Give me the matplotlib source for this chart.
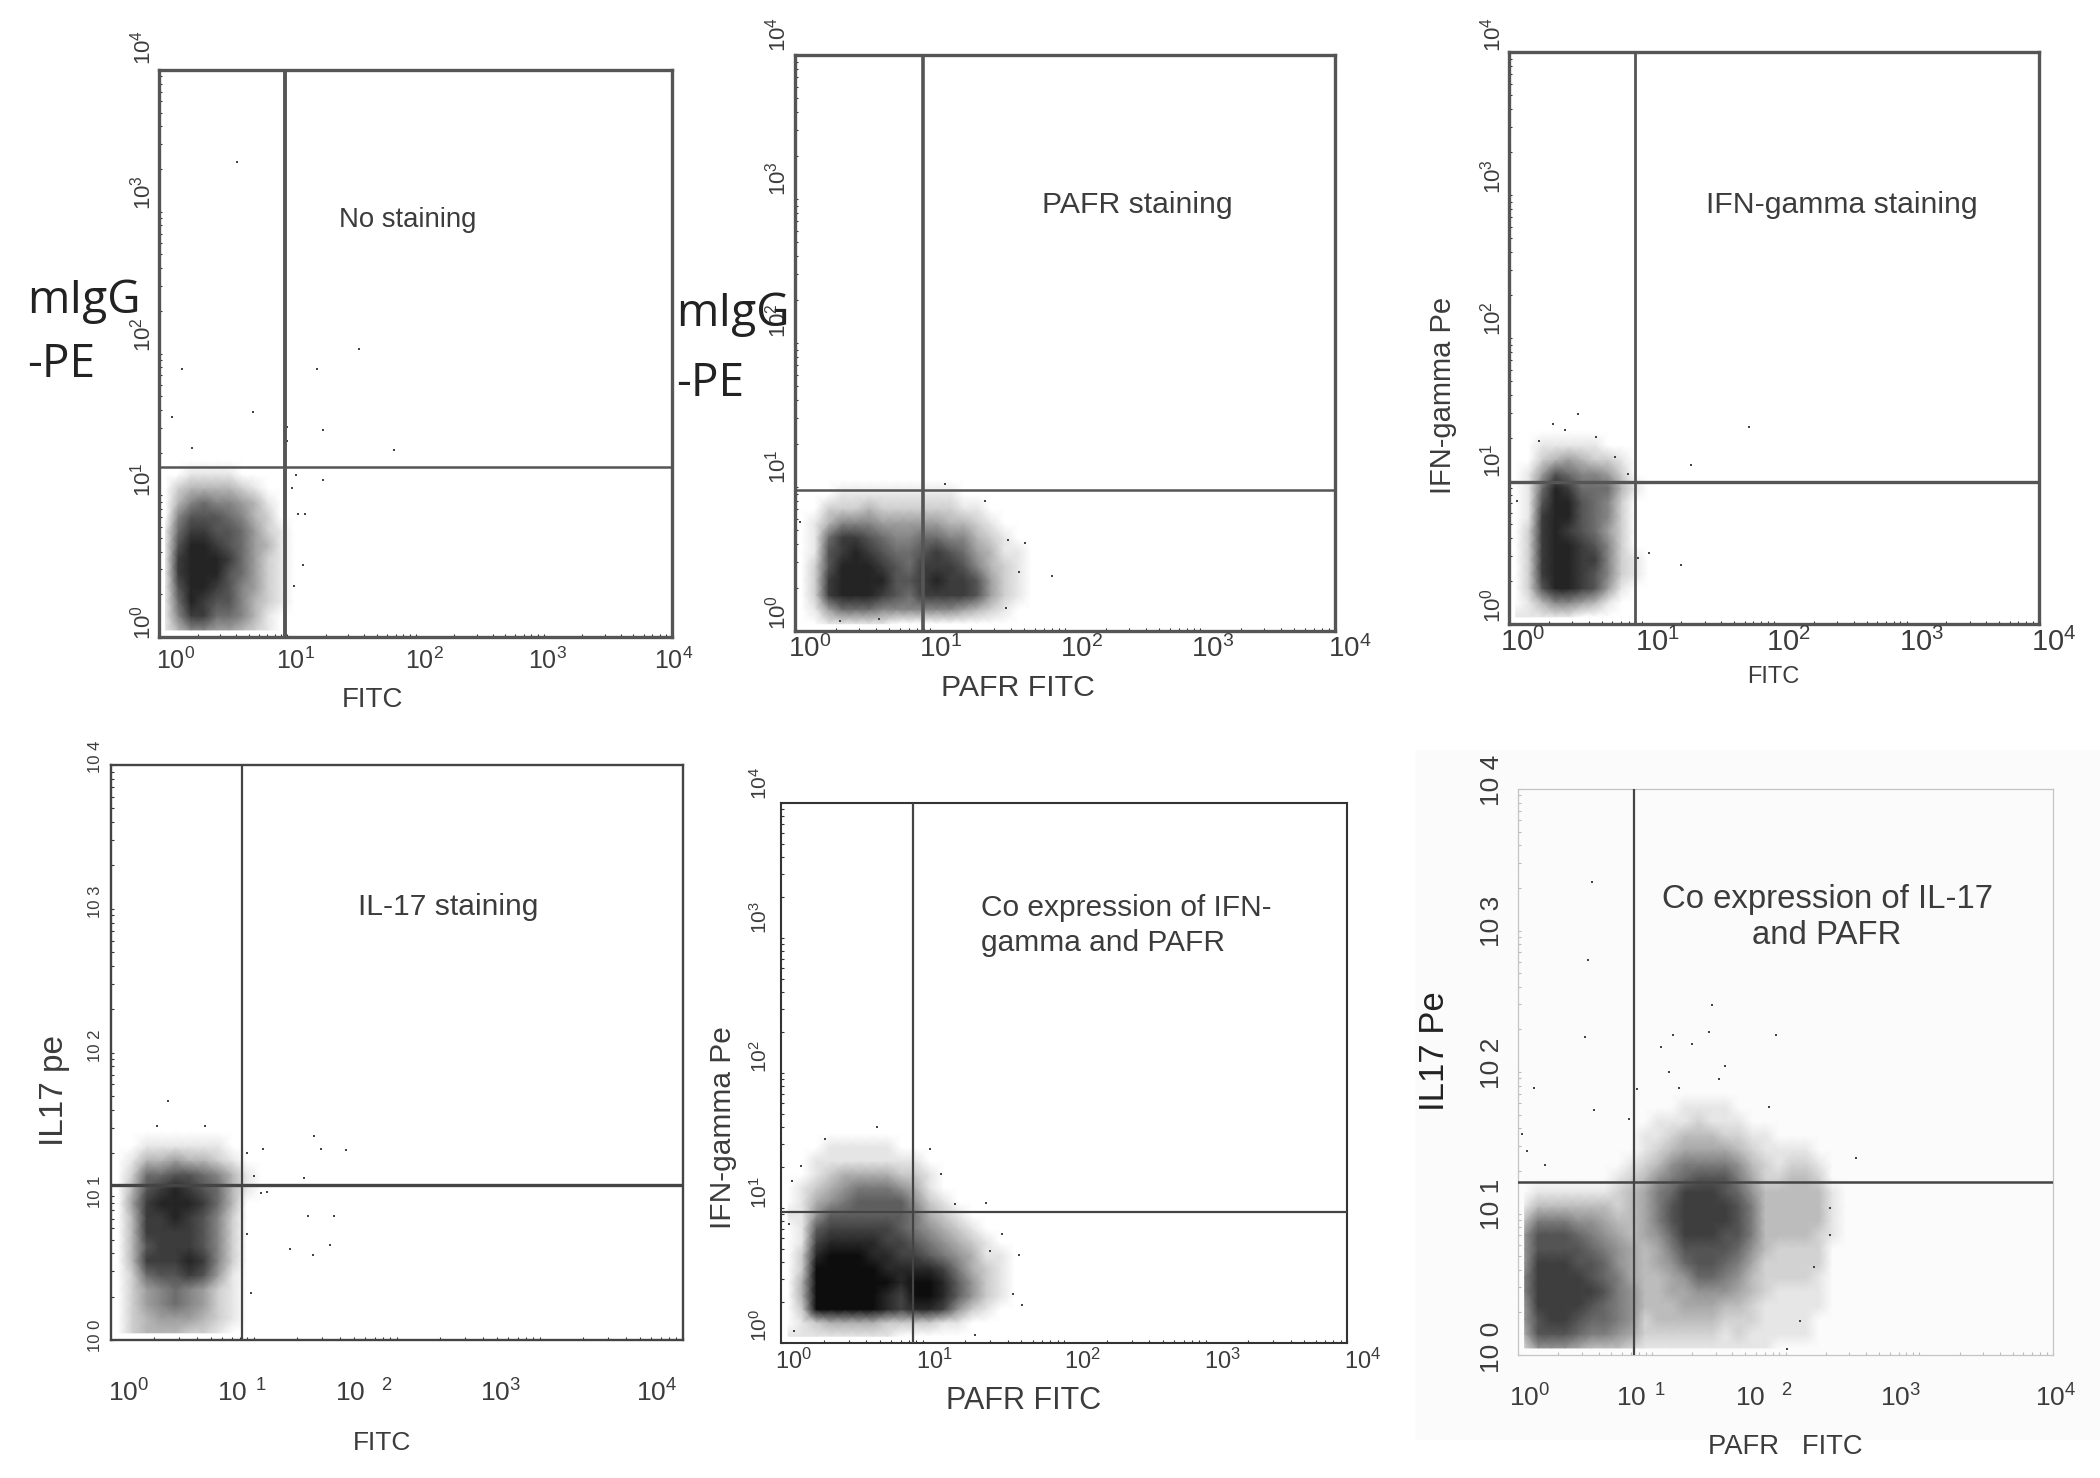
import numpy as np
import matplotlib
matplotlib.use("Agg")
import matplotlib.pyplot as plt
from matplotlib.colors import LinearSegmentedColormap
from matplotlib.patches import Rectangle

plt.rcParams['font.family'] = ['Liberation Sans', 'DejaVu Sans']
plt.rcParams['mathtext.default'] = 'regular'

W, H = 2100, 1478

# Density of the dots, 0 (white) to 9 (solid black).
# One cell is 0.1 decade, rows go from the bottom of the plot upwards.
no_stain_density = [
    [1, 3, 5, 5, 4, 4, 3, 2, 1, 0],
    [1, 5, 8, 8, 6, 6, 5, 3, 1, 0],
    [1, 6, 9, 8, 7, 7, 5, 3, 2, 1],
    [1, 7, 9, 9, 8, 7, 5, 4, 2, 1],
    [1, 8, 9, 9, 9, 7, 6, 4, 2, 1],
    [1, 8, 9, 9, 9, 8, 6, 4, 2, 1],
    [1, 7, 9, 9, 8, 7, 6, 4, 3, 1],
    [1, 6, 8, 8, 7, 7, 6, 4, 2, 1],
    [0, 5, 7, 7, 7, 6, 5, 3, 2, 0],
    [0, 3, 5, 6, 5, 5, 4, 3, 1, 0],
    [0, 2, 3, 3, 3, 3, 2, 1, 0, 0],
    [0, 0, 1, 1, 1, 1, 0, 0, 0, 0],
]
pafr_density = [
    [0, 0, 1, 1, 1, 1, 1, 0, 0, 0, 0, 0, 0, 0, 0, 0, 0, 0],
    [0, 1, 4, 6, 6, 6, 5, 5, 5, 5, 5, 5, 4, 3, 2, 1, 0, 0],
    [0, 2, 8, 9, 9, 9, 8, 7, 6, 8, 8, 8, 8, 7, 4, 2, 1, 0],
    [0, 2, 8, 9, 9, 9, 9, 7, 7, 8, 9, 8, 8, 7, 4, 2, 1, 0],
    [0, 2, 7, 9, 9, 9, 8, 7, 6, 8, 8, 8, 7, 5, 3, 2, 1, 0],
    [0, 1, 7, 8, 9, 8, 7, 6, 6, 7, 8, 7, 6, 4, 3, 1, 1, 0],
    [0, 1, 6, 8, 8, 7, 6, 5, 5, 6, 6, 5, 5, 3, 2, 1, 0, 0],
    [0, 1, 3, 5, 5, 5, 4, 4, 4, 4, 4, 3, 3, 2, 1, 0, 0, 0],
    [0, 0, 2, 2, 2, 3, 2, 2, 2, 2, 2, 2, 1, 1, 0, 0, 0, 0],
    [0, 0, 0, 1, 1, 1, 1, 1, 1, 1, 1, 1, 0, 0, 0, 0, 0, 0],
]
ifn_density = [
    [1, 1, 1, 1, 1, 0, 0, 0, 0, 0],
    [0, 1, 3, 5, 5, 4, 3, 1, 0, 0],
    [0, 2, 7, 9, 9, 8, 7, 4, 1, 0],
    [0, 2, 8, 9, 9, 8, 7, 5, 2, 1],
    [0, 2, 8, 9, 9, 8, 8, 5, 2, 1],
    [0, 2, 8, 9, 9, 8, 7, 5, 2, 0],
    [0, 2, 8, 9, 8, 7, 6, 4, 2, 0],
    [0, 1, 8, 9, 9, 7, 6, 5, 2, 0],
    [0, 1, 7, 9, 9, 7, 6, 5, 2, 0],
    [0, 1, 6, 9, 8, 6, 6, 6, 3, 1],
    [0, 1, 4, 7, 6, 5, 5, 4, 2, 0],
    [0, 0, 2, 3, 4, 3, 2, 2, 1, 0],
    [0, 0, 1, 1, 1, 1, 1, 0, 0, 0],
]
il17_density = [
    [0, 2, 3, 3, 3, 2, 2, 1, 0, 0],
    [0, 2, 3, 4, 4, 4, 3, 2, 1, 0],
    [0, 2, 4, 5, 6, 5, 4, 2, 1, 0],
    [0, 2, 4, 5, 6, 5, 4, 2, 1, 0],
    [0, 2, 6, 7, 7, 8, 7, 4, 1, 0],
    [0, 3, 8, 8, 8, 9, 8, 5, 2, 0],
    [0, 3, 7, 8, 8, 8, 7, 5, 2, 0],
    [0, 3, 8, 8, 8, 8, 7, 5, 2, 0],
    [0, 3, 8, 8, 9, 8, 7, 5, 2, 0],
    [0, 4, 8, 9, 9, 9, 8, 6, 3, 0],
    [0, 3, 7, 8, 9, 8, 7, 6, 3, 1],
    [0, 2, 6, 6, 7, 7, 6, 5, 3, 1],
    [0, 1, 3, 3, 4, 3, 3, 2, 1, 0],
    [0, 0, 1, 1, 1, 1, 1, 1, 0, 0],
]
ifn_pafr_density = [
    [1, 1, 1, 1, 1, 1, 1, 1, 0, 0, 0, 0, 0, 0, 0, 0, 0, 0],
    [0, 1, 2, 3, 3, 3, 3, 2, 2, 2, 2, 1, 1, 0, 0, 0, 0, 0],
    [0, 2, 9, 9, 9, 9, 9, 8, 7, 8, 8, 7, 4, 2, 1, 0, 0, 0],
    [0, 3, 9, 9, 9, 9, 9, 8, 7, 9, 9, 8, 6, 4, 2, 1, 0, 0],
    [0, 3, 9, 9, 9, 9, 9, 9, 8, 9, 9, 8, 6, 4, 2, 1, 0, 0],
    [0, 2, 9, 9, 9, 9, 9, 8, 8, 8, 8, 7, 5, 3, 2, 1, 0, 0],
    [0, 2, 8, 9, 9, 9, 8, 8, 7, 7, 6, 5, 4, 3, 1, 1, 0, 0],
    [0, 1, 7, 8, 8, 8, 8, 7, 7, 6, 5, 4, 3, 2, 1, 0, 0, 0],
    [0, 1, 6, 7, 7, 7, 7, 7, 6, 5, 4, 3, 2, 1, 0, 0, 0, 0],
    [1, 1, 4, 6, 6, 6, 6, 6, 6, 5, 3, 2, 1, 0, 0, 0, 0, 0],
    [0, 1, 3, 4, 5, 6, 6, 6, 6, 4, 2, 1, 0, 0, 0, 0, 0, 0],
    [0, 1, 2, 3, 4, 5, 5, 5, 4, 3, 1, 0, 0, 0, 0, 0, 0, 0],
    [0, 0, 1, 2, 3, 3, 3, 3, 2, 2, 1, 0, 0, 0, 0, 0, 0, 0],
    [0, 0, 1, 1, 1, 1, 1, 1, 1, 1, 0, 0, 0, 0, 0, 0, 0, 0],
    [0, 0, 0, 1, 1, 1, 1, 1, 0, 0, 0, 0, 0, 0, 0, 0, 0, 0],
]
il17_pafr_density = [
    [2, 5, 5, 5, 4, 3, 3, 3, 2, 1, 1, 1, 1, 1, 1, 1, 1, 1, 1, 0, 0, 0, 0, 0],
    [4, 8, 8, 8, 7, 6, 6, 5, 4, 2, 2, 2, 2, 2, 2, 1, 2, 1, 1, 1, 1, 1, 0, 0],
    [5, 8, 9, 9, 8, 7, 7, 6, 5, 2, 3, 3, 3, 3, 3, 2, 2, 2, 1, 1, 1, 1, 0, 0],
    [5, 9, 9, 9, 9, 8, 7, 6, 5, 3, 3, 3, 4, 4, 4, 3, 3, 2, 1, 1, 1, 1, 1, 0],
    [6, 9, 9, 9, 9, 9, 8, 6, 5, 3, 3, 4, 4, 5, 5, 5, 4, 3, 2, 1, 1, 1, 1, 0],
    [6, 9, 9, 9, 9, 8, 7, 6, 4, 3, 3, 4, 5, 7, 7, 6, 5, 3, 2, 2, 2, 2, 1, 0],
    [5, 9, 9, 9, 8, 8, 7, 5, 4, 3, 4, 5, 7, 8, 8, 7, 6, 4, 2, 2, 2, 2, 2, 0],
    [5, 8, 8, 8, 8, 7, 6, 5, 4, 3, 4, 6, 8, 8, 8, 8, 7, 5, 3, 2, 2, 2, 2, 0],
    [5, 8, 8, 8, 7, 6, 5, 4, 3, 4, 5, 7, 9, 9, 9, 8, 8, 6, 3, 3, 3, 3, 2, 1],
    [3, 6, 6, 6, 5, 5, 4, 3, 3, 4, 6, 8, 9, 9, 9, 9, 8, 6, 3, 3, 3, 3, 3, 1],
    [1, 3, 3, 3, 3, 3, 3, 2, 3, 4, 6, 8, 9, 9, 9, 9, 8, 6, 3, 3, 3, 3, 3, 1],
    [0, 1, 1, 1, 1, 1, 1, 2, 3, 4, 6, 7, 9, 9, 9, 8, 7, 5, 3, 3, 3, 3, 3, 1],
    [0, 0, 0, 0, 0, 0, 0, 1, 2, 3, 5, 6, 7, 8, 8, 8, 6, 4, 2, 2, 3, 3, 2, 0],
    [0, 0, 0, 0, 0, 0, 0, 0, 1, 2, 3, 5, 6, 6, 6, 6, 5, 3, 2, 1, 2, 2, 1, 0],
    [0, 0, 0, 0, 0, 0, 0, 0, 0, 1, 2, 3, 4, 4, 4, 4, 3, 2, 1, 1, 1, 1, 0, 0],
    [0, 0, 0, 0, 0, 0, 0, 0, 0, 1, 1, 2, 3, 3, 3, 2, 2, 1, 1, 0, 0, 0, 0, 0],
    [0, 0, 0, 0, 0, 0, 0, 0, 0, 0, 1, 1, 1, 2, 1, 1, 1, 0, 0, 0, 0, 0, 0, 0],
    [0, 0, 0, 0, 0, 0, 0, 0, 0, 0, 0, 0, 1, 1, 1, 1, 0, 0, 0, 0, 0, 0, 0, 0],
]

# Single dots outside the clouds, in decades (log10 of the value)
no_stain_x = [0.61, 0.18, 0.10, 0.73, 0.26, 1.23, 1.56, 1.28, 1.83, 1.00, 1.00, 1.28, 1.07, 1.04, 1.08, 1.14, 1.12, 1.05]
no_stain_y = [3.35, 1.89, 1.55, 1.59, 1.33, 1.89, 2.03, 1.46, 1.32, 1.48, 1.38, 1.11, 1.14, 1.05, 0.87, 0.87, 0.51, 0.36]
pafr_x = [1.11, 1.90, 1.70, 1.66, 1.58, 1.56, 0.04, 0.62, 0.33, 1.41]
pafr_y = [1.02, 0.38, 0.61, 0.41, 0.63, 0.16, 0.76, 0.08, 0.07, 0.90]
ifn_x = [1.81, 1.37, 1.30, 1.06, 0.52, 0.33, 0.42, 0.23, 0.66, 0.80, 0.90, 0.06, 0.97]
ifn_y = [1.38, 1.11, 0.41, 0.50, 1.47, 1.40, 1.36, 1.28, 1.31, 1.17, 1.05, 0.86, 0.46]
il17_x = [0.40, 0.32, 0.66, 1.42, 1.47, 1.64, 1.06, 0.95, 1.00, 1.35, 1.09, 1.05, 1.38, 1.56, 1.53, 1.25, 1.41, 0.98, 0.95]
il17_y = [1.66, 1.49, 1.49, 1.42, 1.33, 1.32, 1.33, 1.30, 1.14, 1.13, 1.03, 1.02, 0.86, 0.86, 0.66, 0.63, 0.59, 0.33, 0.74]
ifn_pafr_x = [0.68, 0.31, 1.45, 1.23, 1.68, 1.70, 1.64, 1.56, 1.48, 1.05, 1.13, 0.08, 0.14, 1.37, 0.06, 0.09]
ifn_pafr_y = [1.60, 1.51, 1.04, 1.03, 0.65, 0.28, 0.36, 0.81, 0.68, 1.44, 1.25, 1.20, 1.31, 0.06, 0.88, 0.09]
il17_pafr_x = [0.55, 0.52, 0.50, 0.12, 1.45, 1.43, 1.16, 1.93, 1.07, 1.30, 1.55, 1.13, 1.50, 1.20, 0.89, 1.88, 0.57, 0.83, 0.03, 0.07, 0.20, 2.53, 2.33, 2.33, 2.21, 2.11, 2.01]
il17_pafr_y = [3.34, 2.79, 2.25, 1.89, 2.47, 2.28, 2.26, 2.26, 2.18, 2.20, 2.04, 2.00, 1.95, 1.89, 1.88, 1.75, 1.73, 1.67, 1.56, 1.44, 1.34, 1.39, 1.04, 0.85, 0.62, 0.24, 0.04]

# Quadrant gates, in decades
gate_x = [0.98, 0.948, 0.951, 0.916, 0.933, 0.867]
gate_y = [1.20, 0.979, 0.993, 1.078, 0.970, 1.223]

sup_labels = ['$10^{0}$', '$10^{1}$', '$10^{2}$', '$10^{3}$', '$10^{4}$']
gap_labels = ['$10^{0}$', '$10\\ ^{1}$', '$10\\ \\ ^{2}$', '$10^{3}$', '$10^{4}$']
plain_labels = ['10 0', '10 1', '10 2', '10 3', '10 4']


def add_text(x, y, s, size, color='#3c3c3c', rotation=0, ha='center', family=None):
    # x and y are pixels of the final picture
    kw = {'family': family} if family else {}
    fig.text(x / W, 1 - y / H, s, fontsize=size, color=color, rotation=rotation,
             ha=ha, va='center', **kw)


def draw_panel(box, density, dots_x, dots_y, gx, gy, frame='#555555', frame_w=2.0,
               gate_w=(2.0, 1.5), gate_c='#555555', darkest=10.5, tick_c='#333333', paper='#ffffff'):
    left, right, top, bottom = box
    ax = fig.add_axes([left / W, 1 - bottom / H, (right - left) / W, (bottom - top) / H])
    ax.set_xscale('log')
    ax.set_yscale('log')
    ax.set_xlim(1, 1e4)
    ax.set_ylim(1, 1e4)

    # one empty row and column so the cloud fades out instead of stopping at the last cell
    grid = np.pad(np.array(density), ((0, 1), (0, 1)))
    xs = 10 ** (np.arange(grid.shape[1]) * 0.1 + 0.05)
    ys = 10 ** (np.arange(grid.shape[0]) * 0.1 + 0.05)
    X, Y = np.meshgrid(xs, ys)
    cmap = LinearSegmentedColormap.from_list('dots', [paper, '#000000'])
    ax.pcolormesh(X, Y, grid, cmap=cmap, vmin=0, vmax=darkest, shading='gouraud', zorder=1)
    ax.scatter(10 ** np.array(dots_x), 10 ** np.array(dots_y), s=4, marker='s', color='#444444',
               linewidths=0, zorder=2)

    ax.axvline(10 ** gx, color=gate_c, lw=gate_w[0], zorder=3)
    ax.axhline(10 ** gy, color=gate_c, lw=gate_w[1], zorder=3)

    for side in ax.spines.values():
        side.set_color(frame)
        side.set_linewidth(frame_w)
    ax.patch.set_alpha(0)
    ax.tick_params(which='both', direction='in', length=2, width=0.8, color=tick_c,
                   labelbottom=False, labelleft=False)
    ax.set_xticks([1, 10, 100, 1000, 10000])
    ax.set_yticks([1, 10, 100, 1000, 10000])
    return ax


def tick_labels(labels, xs, x_y, ys, y_x, xsize, ysize):
    for s, px in zip(labels[0], xs):
        add_text(px, x_y, s, xsize)
    for s, py in zip(labels[1], ys):
        add_text(y_x, py, s, ysize, rotation=90)


fig = plt.figure(figsize=(W / 100, H / 100), dpi=100, facecolor='white')
fig.patches.append(Rectangle((1415 / W, 1 - 1440 / H), 685 / W, 690 / H, transform=fig.transFigure,
                             facecolor='#fbfbfb', edgecolor='none', zorder=-5))

# top row
draw_panel((159, 672, 70, 637), no_stain_density, no_stain_x, no_stain_y, gate_x[0], gate_y[0],
           frame='#555555', frame_w=2.4, gate_w=(2.8, 1.8))
tick_labels((sup_labels, sup_labels), [176, 295, 424, 547, 674], 661,
            [622, 480, 335, 193, 47], 143, 18, 16)
add_text(373, 700, 'FITC', 20)
add_text(408, 220, 'No staining', 19.8)
add_text(27, 301, 'mIgG', 33, '#222222', ha='left', family='Open Sans')
add_text(27, 365, '-PE', 33, '#222222', ha='left', family='Open Sans')

draw_panel((795, 1335, 55, 631), pafr_density, pafr_x, pafr_y, gate_x[1], gate_y[1],
           frame='#555555', frame_w=2.4, gate_w=(2.6, 1.8))
tick_labels((sup_labels, sup_labels), [810, 941, 1082, 1213, 1350], 649,
            [612, 467, 321, 179, 34], 778, 20, 16)
add_text(1018, 688, 'PAFR FITC', 21.8)
add_text(1137, 205, 'PAFR staining', 21.7)
add_text(676, 314, 'mIgG', 33, '#222222', ha='left', family='Open Sans')
add_text(676, 384, '-PE', 33, '#222222', ha='left', family='Open Sans')

draw_panel((1509, 2039, 52, 624), ifn_density, ifn_x, ifn_y, gate_x[2], gate_y[2],
           frame='#555555', frame_w=2.4, gate_w=(2.0, 2.4))
tick_labels((sup_labels, sup_labels), [1523, 1657, 1788, 1922, 2054], 642,
            [605, 461, 319, 177, 34], 1493, 21, 16)
add_text(1773, 677, 'FITC', 17)
add_text(1443, 395, 'IFN-gamma Pe', 21, rotation=90)
add_text(1842, 205, 'IFN-gamma staining', 21.7)

# bottom row
draw_panel((111, 683, 765, 1340), il17_density, il17_x, il17_y, gate_x[3], gate_y[3],
           frame='#444444', frame_w=1.7, gate_w=(1.6, 2.4), gate_c='#444444')
tick_labels((gap_labels, plain_labels), [129, 242, 364, 501, 657], 1393,
            [1336, 1192, 1046, 902, 757], 96, 19, 12)
add_text(382, 1443, 'FITC', 19)
add_text(54, 1091, 'IL17 pe', 24, rotation=90)
add_text(448, 907, 'IL-17 staining', 21.6)

draw_panel((781, 1347, 803, 1343), ifn_pafr_density, ifn_pafr_x, ifn_pafr_y, gate_x[4], gate_y[4],
           frame='#333333', frame_w=1.5, gate_w=(1.6, 1.6), gate_c='#444444', darkest=9.5)
tick_labels((sup_labels, sup_labels), [794, 934, 1082, 1222, 1363], 1361,
            [1325, 1193, 1057, 918, 783], 760, 17, 15)
add_text(1024, 1401, 'PAFR FITC', 22)
add_text(723, 1128, 'IFN-gamma Pe', 21.5, rotation=90)
add_text(981, 908, 'Co expression of IFN-', 21.5, ha='left')
add_text(981, 943, 'gamma and PAFR', 21.5, ha='left')

draw_panel((1518, 2053, 789, 1355), il17_pafr_density, il17_pafr_x, il17_pafr_y, gate_x[5], gate_y[5],
           frame='#c4c4c4', frame_w=0.9, gate_w=(1.6, 1.8), gate_c='#444444', darkest=12, tick_c='#bbbbbb',
           paper='#fbfbfb')
tick_labels((gap_labels, plain_labels), [1530, 1641, 1764, 1901, 2056], 1398,
            [1347, 1204, 1063, 921, 780], 1492, 19, 19)
add_text(1785, 1447, 'PAFR   FITC', 19.7)
add_text(1435, 1051, 'IL17 Pe', 25, color='#222222', rotation=90)
add_text(1827, 899, 'Co expression of IL-17', 23.7)
add_text(1827, 936, 'and PAFR', 23.7)

fig.savefig('out.png', dpi=100)
